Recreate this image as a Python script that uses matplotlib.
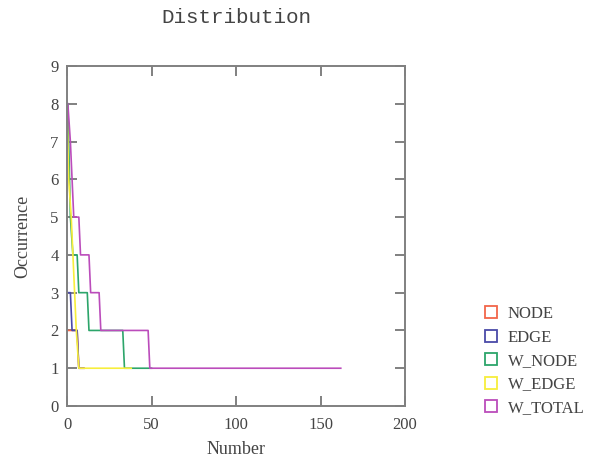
import matplotlib
matplotlib.use("Agg")
import matplotlib.pyplot as plt
from matplotlib.lines import Line2D

# ---- data ----
series_names = ["NODE", "EDGE", "W_NODE", "W_EDGE", "W_TOTAL"]
node_x = [0, 6, 7, 10]
node_y = [2, 2, 1, 1]
edge_x = [0, 2, 3, 6, 7, 10]
edge_y = [3, 3, 2, 2, 1, 1]
wnode_x = [0.5, 2, 3.5, 6, 7, 12, 13, 33, 34, 50]
wnode_y = [8, 5, 4, 4, 3, 3, 2, 2, 1, 1]
wedge_x = [0, 1, 2.5, 3.5, 4.5, 5.5, 7, 38]
wedge_y = [8, 6, 5, 4, 3, 2, 1, 1]
wtotal_x = [0.5, 2, 4, 7, 8, 13, 14, 19, 20, 48, 49, 162]
wtotal_y = [8, 7, 5, 5, 4, 4, 3, 3, 2, 2, 1, 1]
x_ticks = [0, 50, 100, 150, 200]
y_ticks = [0, 1, 2, 3, 4, 5, 6, 7, 8, 9]

colors = ["#f2664a", "#4a4aa8", "#2ca56a", "#f7ee3c", "#bb4cbb"]
xs = [node_x, edge_x, wnode_x, wedge_x, wtotal_x]
ys = [node_y, edge_y, wnode_y, wedge_y, wtotal_y]

fig = plt.figure(figsize=(5.93, 4.59), dpi=100)
ax = fig.add_axes([67/593, 53/459, 338/593, 340/459])

for x, y, c in zip(xs, ys, colors):
    ax.plot(x, y, color=c, lw=1.2, zorder=2)

ax.set_xlim(0, 200)
ax.set_ylim(0, 9)
ax.set_xticks(x_ticks)
ax.set_yticks(y_ticks)

txt_c = "#444444"
spine_c = "#808080"
for s in ax.spines.values():
    s.set_color(spine_c)
    s.set_linewidth(1.4)
ax.tick_params(direction="in", length=7, width=1.4, color=spine_c,
               top=True, right=True, labelcolor=txt_c, labelsize=12)
ax.tick_params(axis="x", pad=8)
ax.tick_params(axis="y", pad=6)
for lab in ax.get_xticklabels() + ax.get_yticklabels():
    lab.set_family("Liberation Serif")

ax.set_title("Distribution", family="Liberation Mono", fontsize=15,
             color=txt_c, pad=31)
ax.set_xlabel("Number", family="Liberation Serif", fontsize=13,
              color=txt_c, labelpad=6)
ax.set_ylabel("Occurrence", family="Liberation Serif", fontsize=13,
              color=txt_c, labelpad=14)

handles = [Line2D([], [], marker="s", linestyle="none", markersize=9,
                  markerfacecolor="white", markeredgecolor=c,
                  markeredgewidth=1.3) for c in colors]
leg = fig.legend(handles, series_names, loc="lower left",
                 bbox_to_anchor=(466/593, 28/459), frameon=False,
                 prop={"family": "Liberation Serif", "size": 12},
                 labelspacing=0.45, handletextpad=0.4, handlelength=1.2)
for t in leg.get_texts():
    t.set_color(txt_c)

fig.savefig("out.png", dpi=100)
